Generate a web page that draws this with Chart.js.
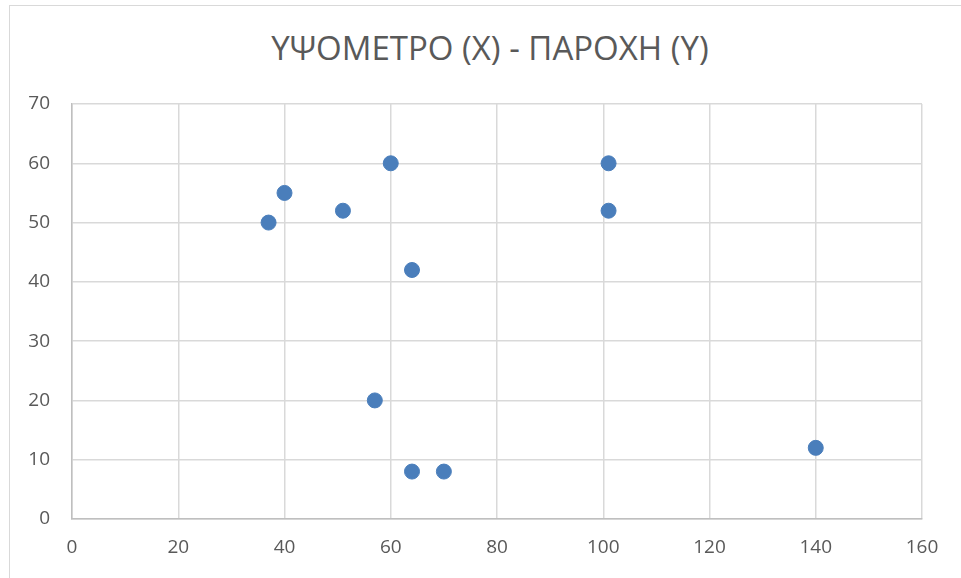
<!DOCTYPE html>
<html>
<head>
<meta charset="utf-8">
<script src="https://cdn.jsdelivr.net/npm/chart.js@4/dist/chart.umd.min.js"></script>
<style>
  body { margin: 0; background: #fff; }
  #frame { position: absolute; left: 9px; top: 5px; width: 1000px; height: 600px;
           border-left: 1px solid #d9d9d9; border-top: 1px solid #d9d9d9; }
  #title { position: absolute; left: 240px; width: 500px; top: 25px; text-align: center;
           font: 33px "Open Sans", sans-serif; color: #595959; white-space: nowrap; }
  #wrap { position: absolute; left: 0; top: 0; width: 961px; height: 578px; }
</style>
</head>
<body>
<div id="frame"></div>
<div id="title">ΥΨΟΜΕΤΡΟ (X) - ΠΑΡΟΧΗ (Y)</div>
<div id="wrap"><canvas id="chart"></canvas></div>
<script>
// height (x) vs flow (y)
const heights = [37, 40, 51, 60, 64, 57, 64, 70, 101, 101, 140];
const flows = [50, 55, 52, 60, 42, 20, 8, 8, 60, 52, 12];

const points = heights.map((h, i) => ({ x: h, y: flows[i] }));

const tickFont = { family: '"Open Sans", sans-serif', size: 19 };

new Chart(document.getElementById('chart'), {
    type: 'scatter',
    data: {
        datasets: [{
            data: points,
            backgroundColor: '#4a7ebb',
            borderColor: '#4a7ebb',
            pointRadius: 7.5,
            pointHoverRadius: 7.5
        }]
    },
    options: {
        responsive: true,
        maintainAspectRatio: false,
        animation: false,
        layout: { padding: { top: 104, right: 39, left: 0, bottom: 0 } },
        plugins: { legend: { display: false }, tooltip: { enabled: false } },
        scales: {
            x: {
                min: 0, max: 160,
                ticks: { stepSize: 20, color: '#595959', font: tickFont, padding: 17, maxRotation: 0 },
                grid: { color: '#d9d9d9', lineWidth: 1.5, drawTicks: false },
                border: { color: '#bfbfbf', width: 1.5 },
                afterFit: s => { s.height = 59; }
            },
            y: {
                min: 0, max: 70,
                ticks: { stepSize: 10, color: '#595959', font: tickFont, padding: 22 },
                grid: { color: '#d9d9d9', lineWidth: 1.5, drawTicks: false },
                border: { color: '#bfbfbf', width: 1.5 },
                afterFit: s => { s.width = 72; }
            }
        }
    }
});
</script>
</body>
</html>
